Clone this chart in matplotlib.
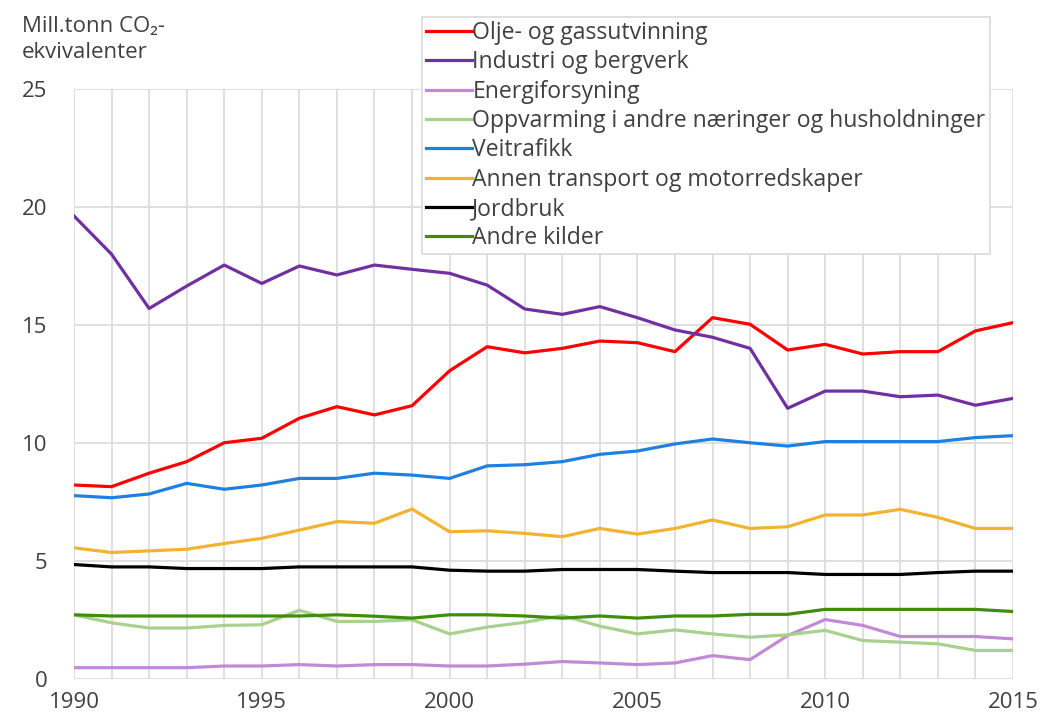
import numpy as np
import matplotlib
matplotlib.use("Agg")
import matplotlib.pyplot as plt

plt.rcParams["font.family"] = ["Open Sans", "DejaVu Sans"]

years = list(range(1990, 2016))

olje = [8.22, 8.15, 8.72, 9.21, 10.01, 10.2, 11.05, 11.54, 11.19, 11.58, 13.06, 14.08, 13.82,
        14.01, 14.32, 14.25, 13.87, 15.31, 15.03, 13.94, 14.18, 13.77, 13.87, 13.87, 14.75, 15.1]
industri = [19.62, 18.0, 15.7, 16.65, 17.54, 16.76, 17.5, 17.12, 17.54, 17.36, 17.19, 16.69, 15.68,
            15.45, 15.78, 15.31, 14.79, 14.48, 14.01, 11.47, 12.2, 12.2, 11.96, 12.03, 11.6, 11.89]
energi = [0.48, 0.48, 0.48, 0.48, 0.55, 0.55, 0.61, 0.55, 0.61, 0.61, 0.55, 0.55, 0.63,
          0.74, 0.68, 0.61, 0.68, 0.99, 0.82, 1.84, 2.52, 2.27, 1.8, 1.8, 1.8, 1.7]
oppvarming = [2.72, 2.38, 2.16, 2.16, 2.27, 2.3, 2.91, 2.44, 2.44, 2.51, 1.91, 2.2, 2.4,
              2.69, 2.24, 1.91, 2.08, 1.91, 1.77, 1.87, 2.06, 1.63, 1.56, 1.49, 1.21, 1.21]
veitrafikk = [7.77, 7.68, 7.84, 8.29, 8.04, 8.22, 8.5, 8.5, 8.72, 8.64, 8.5, 9.03, 9.08,
              9.21, 9.52, 9.66, 9.96, 10.17, 10.01, 9.87, 10.06, 10.06, 10.06, 10.06, 10.23, 10.31]
transport = [5.56, 5.36, 5.43, 5.5, 5.74, 5.96, 6.31, 6.67, 6.6, 7.2, 6.24, 6.28, 6.17,
             6.03, 6.38, 6.14, 6.38, 6.74, 6.38, 6.45, 6.95, 6.95, 7.19, 6.85, 6.38, 6.38]
jordbruk = [4.85, 4.75, 4.75, 4.68, 4.68, 4.68, 4.75, 4.75, 4.75, 4.75, 4.61, 4.57, 4.57,
            4.64, 4.64, 4.64, 4.57, 4.51, 4.51, 4.51, 4.43, 4.43, 4.43, 4.51, 4.57, 4.57]
andre = [2.72, 2.67, 2.67, 2.67, 2.67, 2.67, 2.67, 2.72, 2.66, 2.58, 2.72, 2.72, 2.67,
         2.58, 2.67, 2.58, 2.67, 2.67, 2.74, 2.74, 2.95, 2.95, 2.95, 2.95, 2.95, 2.86]

labels = ["Olje- og gassutvinning", "Industri og bergverk", "Energiforsyning",
          "Oppvarming i andre næringer og husholdninger", "Veitrafikk",
          "Annen transport og motorredskaper", "Jordbruk", "Andre kilder"]
colors = ["#ff0000", "#7030a0", "#c08ad6", "#a9d18e", "#1f80e0", "#f0b431", "#000000", "#3e8e0c"]
series = [olje, industri, energi, oppvarming, veitrafikk, transport, jordbruk, andre]

fig = plt.figure(figsize=(10.41, 7.17), dpi=100)
ax = fig.add_axes([74 / 1041, 38 / 717, 939 / 1041, 590 / 717])

for vals, lab, col in zip(series, labels, colors):
    ax.plot(years, vals, color=col, lw=2.3, label=lab, solid_joinstyle="round")

ax.set_xlim(1990, 2015)
ax.set_ylim(0, 25)
ax.set_xticks(range(1990, 2016, 5))
ax.set_xticks(years, minor=True)
ax.set_yticks(range(0, 26, 5))
ax.grid(True, which="both", color="#dcdcdc", lw=1.3)
ax.set_axisbelow(True)
for s in ax.spines.values():
    s.set_visible(False)
ax.tick_params(which="both", length=0, labelsize=16, colors="#404040")
ax.tick_params(axis="y", pad=19)
ax.tick_params(axis="x", pad=9)

fig.text(22 / 1041, 1 - 16 / 717, "Mill.tonn CO\u2082-\nekvivalenter", fontsize=16,
         color="#404040", va="top", ha="left", linespacing=1.3)

leg = fig.legend(loc="upper left", bbox_to_anchor=(422 / 1041, 1 - 17 / 717), fontsize=16.6,
                 frameon=True, fancybox=False, edgecolor="#d9d9d9", framealpha=1,
                 handlelength=2.0, handletextpad=0.0, labelspacing=0.23, borderpad=0.18,
                 borderaxespad=0)
leg.get_frame().set_linewidth(1.2)
for t in leg.get_texts():
    t.set_color("#404040")

fig.savefig("out.png", dpi=100)
